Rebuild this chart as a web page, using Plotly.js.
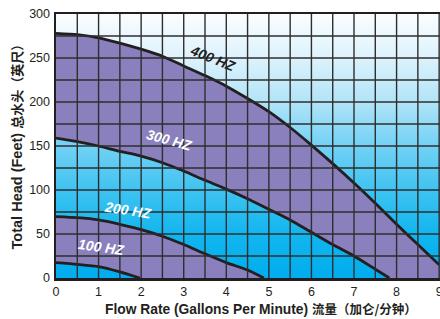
<!DOCTYPE html>
<html><head><meta charset="utf-8">
<script src="https://cdn.plot.ly/plotly-3.0.1.min.js"></script>
<style>html,body{margin:0;padding:0;background:#fff}</style>
</head><body>
<div id="chart" style="width:440px;height:319px"></div>
<script>
// ---- data ----
const flow400 = [0,0.5,1,1.5,2,2.5,3,3.5,4,4.5,5,5.5,6,6.5,7,7.5,8,8.5,9];
const head400 = [278,276.5,273,267,260,252,241,230,218,204,189,171,151,130,108,85,61,38,15];
const flow300 = [0,0.5,1,1.5,2,2.5,3,3.5,4,4.5,5,5.5,6,6.5,7,7.5,7.83];
const head300 = [159,155,150,144,138.5,131,121.5,111,101,90,78,66,52,38,25,10,0];
const flow200 = [0,0.5,1,1.5,2,2.5,3,3.5,4,4.5,4.88];
const head200 = [69.7,68.5,66,61,55,47.5,38,27.5,17.5,9,0];
const flow100 = [0,0.5,1,1.5,1.97];
const head100 = [17.4,15.5,13,7,0];
const curveLabels = ['400 HZ','300 HZ','200 HZ','100 HZ'];
const xTicks = [0,1,2,3,4,5,6,7,8,9];
const yTicks = [0,50,100,150,200,250,300];
const xTitleEn = 'Flow Rate (Gallons Per Minute)';
const xTitleZh = '流量（加仑/分钟）';
const yTitleEn = 'Total Head (Feet)';
const yTitleZh = '总水头（英尺）';

const X_MAX = 9.02, Y_MAX = 300;
const PURPLE = '#8a80be';
const LINE = '#231f20';
const FONT = 'Liberation Sans, Arial, Helvetica, sans-serif';
const CJK = 'Noto Sans CJK SC, sans-serif';

const traces = [];
// background gradient
traces.push({x:[0,X_MAX,X_MAX,0,0], y:[0,0,Y_MAX,Y_MAX,0], mode:'lines', line:{width:0},
  fill:'toself', fillcolor:'rgba(0,0,0,0)',
  fillgradient:{type:'vertical', start:0, stop:Y_MAX,
    colorscale:[[0,'#00adee'],[0.17,'#12b6ee'],[0.33,'#3ec3f1'],[0.5,'#72d1f5'],[0.67,'#b2e4f8'],[0.83,'#dcf2fc'],[1,'#fbfdff']]},
  hoverinfo:'skip', showlegend:false});
// purple band between 300 and 400
traces.push({x:flow300.concat([X_MAX]), y:head300.concat([0]), mode:'lines', line:{width:0}, hoverinfo:'skip', showlegend:false});
traces.push({x:flow400, y:head400, mode:'lines', line:{width:0}, fill:'tonexty', fillcolor:PURPLE, hoverinfo:'skip', showlegend:false});
// purple band between 100 and 200
traces.push({x:flow100.concat([flow200[flow200.length-1]]), y:head100.concat([0]), mode:'lines', line:{width:0}, hoverinfo:'skip', showlegend:false});
traces.push({x:flow200, y:head200, mode:'lines', line:{width:0}, fill:'tonexty', fillcolor:PURPLE, hoverinfo:'skip', showlegend:false});

const shapes = [];
for (let v = 0.5; v < X_MAX - 0.01; v += 0.5) {
  shapes.push({type:'line', xref:'x', yref:'y', x0:v, x1:v, y0:0, y1:Y_MAX, layer:'above', line:{color:'#2e2e2e', width:1.4}});
}
for (let h = 25; h < Y_MAX; h += 25) {
  shapes.push({type:'line', xref:'x', yref:'y', x0:0, x1:X_MAX, y0:h, y1:h, layer:'above', line:{color:'#2e2e2e', width:1.4}});
}
// curve lines on top
[[flow400,head400],[flow300,head300],[flow200,head200],[flow100,head100]].forEach(([fx,fy])=>{
  traces.push({x:fx, y:fy, mode:'lines', line:{color:LINE, width:2.8, shape:'spline', smoothing:0.6}, hoverinfo:'skip', showlegend:false});
});

const annotations = [
  {x:3.67, y:250, text:curveLabels[0], textangle:22, color:'#231f20'},
  {x:2.66, y:157, text:curveLabels[1], textangle:15, color:'#ffffff'},
  {x:1.68, y:77,  text:curveLabels[2], textangle:9,  color:'#ffffff'},
  {x:1.05, y:35,  text:curveLabels[3], textangle:8,  color:'#ffffff'}
].map(a=>({xref:'x', yref:'y', x:a.x, y:a.y, text:a.text, textangle:a.textangle, showarrow:false,
  font:{family:FONT, size:14, color:a.color, style:'italic', weight:'bold'}}));
annotations.push({xref:'paper', yref:'paper', x:0.535, y:-0.117, xanchor:'center', yanchor:'middle',
  text:xTitleEn + ' <span style="font-family:' + CJK + ';font-size:12.5px">' + xTitleZh + '</span>', showarrow:false,
  font:{family:FONT, size:13.8, color:'#231f20', weight:'bold'}});
annotations.push({xref:'paper', yref:'paper', x:-0.104, y:0.51, xanchor:'center', yanchor:'middle', textangle:-90,
  text:yTitleEn + ' <span style="font-family:' + CJK + ';font-size:13px">' + yTitleZh + '</span>', showarrow:false,
  font:{family:FONT, size:14.5, color:'#231f20', weight:'bold'}});

const layout = {
  width:440, height:319,
  margin:{l:56, r:0, t:14, b:41, pad:0},
  paper_bgcolor:'#ffffff', plot_bgcolor:'#ffffff',
  showlegend:false,
  xaxis:{range:[0,X_MAX], tickvals:xTicks, ticktext:xTicks.map(String), showgrid:false, zeroline:false,
    showline:true, linecolor:LINE, linewidth:2.5, mirror:true, ticks:'', ticklen:0,
    ticklabeloverflow:'allow', automargin:false,
    tickfont:{family:FONT, size:12.5, color:'#231f20'}, layer:'above traces'},
  yaxis:{range:[0,Y_MAX], tickvals:yTicks, ticktext:yTicks.map(String), showgrid:false, zeroline:false,
    showline:true, linecolor:LINE, linewidth:2.5, ticks:'outside', ticklen:1, tickcolor:'rgba(0,0,0,0)',
    automargin:false,
    tickfont:{family:FONT, size:12.5, color:'#231f20'}, layer:'above traces'},
  shapes:shapes, annotations:annotations
};
Plotly.newPlot('chart', traces, layout, {displayModeBar:false, staticPlot:true});
</script>
</body></html>
